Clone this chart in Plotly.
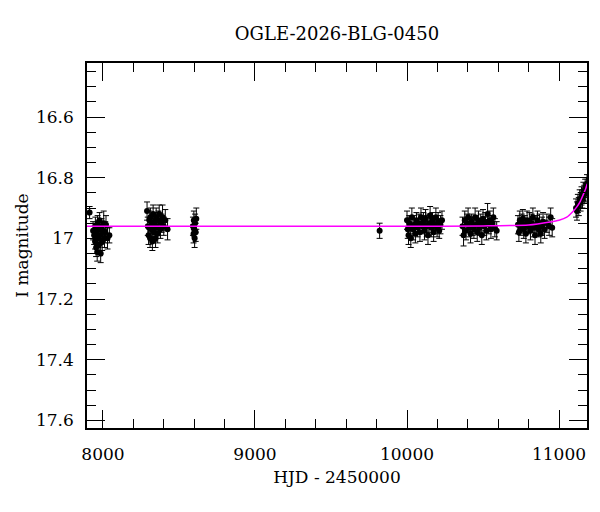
import plotly.graph_objects as go

# Season 1
t1 = [7912, 7935, 7942, 7948, 7950, 7955, 7958, 7962, 7965, 7968, 7972, 7975, 7978, 7982,
      7985, 7990, 7995, 8000, 8005, 8010, 8015, 8020, 8030, 8042]
m1 = [16.915, 16.975, 16.99, 17.01, 16.96, 17.03, 16.98, 17.045, 16.95, 17.0, 16.97, 17.02,
      16.94, 16.99, 17.05, 16.96, 17.01, 16.975, 16.95, 17.0, 16.98, 16.955, 17.0, 16.99]
e1 = [0.02, 0.03, 0.03, 0.025, 0.03, 0.03, 0.025, 0.03, 0.025, 0.03, 0.03, 0.03, 0.025, 0.03,
      0.03, 0.025, 0.03, 0.03, 0.04, 0.03, 0.035, 0.03, 0.035, 0.025]

# Season 2
t2 = [8290, 8295, 8300, 8305, 8310, 8312, 8318, 8322, 8325, 8330, 8335, 8338, 8342, 8346,
      8350, 8355, 8360, 8365, 8370, 8378, 8385, 8392, 8400, 8410, 8425]
m2 = [16.91, 16.96, 16.99, 16.94, 17.0, 16.93, 16.97, 16.95, 17.01, 16.92, 16.98, 16.945,
      16.965, 17.0, 16.93, 16.96, 16.985, 16.94, 16.92, 16.97, 16.95, 16.93, 16.96, 16.94, 16.97]
e2 = [0.03, 0.03, 0.03, 0.03, 0.03, 0.03, 0.03, 0.025, 0.03, 0.03, 0.03, 0.03, 0.03, 0.03,
      0.03, 0.025, 0.03, 0.03, 0.03, 0.03, 0.03, 0.04, 0.03, 0.035, 0.035]

# Season 3
t3 = [8592, 8596, 8598, 8600, 8603, 8606, 8610, 8614]
m3 = [16.96, 16.985, 16.94, 16.97, 17.0, 16.95, 16.98, 16.935]
e3 = [0.03, 0.03, 0.03, 0.025, 0.03, 0.03, 0.03, 0.035]

# Isolated point
t4 = [9820]
m4 = [16.975]
e4 = [0.025]

# Season 4
t5 = [10000, 10005, 10010, 10015, 10020, 10025, 10032, 10040, 10048, 10055, 10062, 10070,
      10078, 10085, 10092, 10100, 10108, 10115, 10122, 10130, 10138, 10145, 10152, 10160,
      10168, 10175, 10182, 10190, 10198, 10205, 10212, 10220, 10230]
m5 = [16.94, 16.97, 16.99, 16.95, 16.96, 17.0, 16.93, 16.97, 16.955, 16.985, 16.94, 16.965,
      16.95, 16.98, 16.93, 16.96, 16.945, 16.975, 16.935, 16.96, 16.99, 16.95, 16.925, 16.965,
      16.94, 16.98, 16.955, 16.93, 16.965, 16.945, 16.975, 16.955, 16.94]
e5 = [0.03, 0.03, 0.03, 0.025, 0.03, 0.03, 0.03, 0.035, 0.03, 0.03, 0.025, 0.03,
      0.03, 0.03, 0.03, 0.025, 0.03, 0.03, 0.03, 0.035, 0.03, 0.03, 0.03, 0.03,
      0.025, 0.03, 0.03, 0.03, 0.03, 0.03, 0.025, 0.03, 0.03]

# Season 5
t6 = [10365, 10372, 10380, 10388, 10395, 10402, 10410, 10418, 10425, 10432, 10440, 10448,
      10455, 10462, 10470, 10478, 10485, 10492, 10500, 10508, 10515, 10522, 10530, 10538,
      10545, 10552, 10560, 10568, 10578, 10590]
m6 = [16.96, 16.99, 16.94, 16.975, 16.95, 16.93, 16.965, 16.985, 16.945, 16.96, 16.97, 16.93,
      16.955, 16.98, 16.94, 16.965, 16.95, 16.99, 16.935, 16.96, 16.945, 16.975, 16.92, 16.955,
      16.94, 16.97, 16.95, 16.93, 16.965, 16.975]
e6 = [0.03, 0.035, 0.03, 0.03, 0.03, 0.03, 0.03, 0.03, 0.025, 0.03, 0.03, 0.03,
      0.03, 0.03, 0.03, 0.025, 0.03, 0.03, 0.03, 0.03, 0.03, 0.03, 0.035, 0.03,
      0.03, 0.03, 0.025, 0.03, 0.03, 0.03]

# Season 6
t7 = [10730, 10736, 10742, 10748, 10755, 10762, 10768, 10775, 10782, 10790, 10798, 10805,
      10812, 10820, 10828, 10835, 10842, 10850, 10858, 10865, 10872, 10880, 10888, 10895,
      10905, 10920, 10935, 10945, 10955]
m7 = [16.955, 16.98, 16.94, 16.965, 16.95, 16.935, 16.97, 16.955, 16.985, 16.94, 16.96, 16.945,
      16.975, 16.95, 16.93, 16.965, 16.99, 16.955, 16.94, 16.97, 16.95, 16.985, 16.96, 16.945,
      16.97, 16.95, 16.96, 16.93, 16.965]
e7 = [0.03, 0.03, 0.03, 0.025, 0.03, 0.03, 0.03, 0.03, 0.03, 0.03, 0.025, 0.03,
      0.03, 0.03, 0.03, 0.03, 0.03, 0.03, 0.03, 0.025, 0.03, 0.03, 0.03, 0.03,
      0.03, 0.03, 0.03, 0.03, 0.03]

# Season 7 (rising)
t8 = [11112, 11118, 11124, 11130, 11136, 11142, 11148, 11154, 11160, 11166, 11172, 11176,
      11180, 11184]
m8 = [16.9, 16.91, 16.885, 16.895, 16.87, 16.88, 16.86, 16.87, 16.845, 16.855, 16.835, 16.85,
      16.83, 16.82]
e8 = [0.03, 0.03, 0.03, 0.03, 0.03, 0.03, 0.03, 0.03, 0.03, 0.03, 0.03, 0.03, 0.03, 0.03]

# Model curve
model_t = [7895, 9000, 10000, 10500, 10800, 10941, 11000, 11051, 11090, 11116, 11140,
           11160, 11175, 11186]
model_m = [16.96, 16.96, 16.96, 16.959, 16.956, 16.946, 16.94, 16.93, 16.912, 16.897, 16.878,
           16.855, 16.837, 16.82]

hjd = t1 + t2 + t3 + t4 + t5 + t6 + t7 + t8
mag = m1 + m2 + m3 + m4 + m5 + m6 + m7 + m8
err = e1 + e2 + e3 + e4 + e5 + e6 + e7 + e8

FONT = "DejaVu Serif"

fig = go.Figure()
fig.add_trace(go.Scatter(
    x=hjd, y=mag, mode="markers",
    marker=dict(color="black", size=6),
    error_y=dict(type="data", array=err, visible=True, color="black", thickness=1, width=3),
    showlegend=False,
))
fig.add_trace(go.Scatter(
    x=model_t, y=model_m, mode="lines",
    line=dict(color="#ff00ff", width=1.5, shape="spline", smoothing=0.6),
    showlegend=False,
))

axis_common = dict(
    showline=True, linecolor="black", linewidth=1.5, mirror="ticks",
    ticks="inside", tickcolor="black", tickwidth=1, ticklen=18,
    showgrid=False, zeroline=False, automargin=False,
    tickfont=dict(family=FONT, size=17, color="black"),
    title_font=dict(family=FONT, size=17, color="black"),
)

fig.update_xaxes(
    range=[7895, 11184], tick0=8000, dtick=1000, tickformat="d",
    minor=dict(dtick=200, ticklen=9, ticks="inside", tickcolor="black", tickwidth=1, showgrid=False),
    title_text="HJD - 2450000", title_standoff=8, ticklabelstandoff=10,
    **axis_common,
)
fig.update_yaxes(
    range=[17.625, 16.422], tick0=16.6, dtick=0.2,
    minor=dict(dtick=0.05, ticklen=9, ticks="inside", tickcolor="black", tickwidth=1, showgrid=False),
    title_text="I magnitude", title_standoff=3, ticklabelstandoff=8,
    **axis_common,
)

fig.update_layout(
    width=600, height=512,
    margin=dict(l=87, r=13, t=63, b=84),
    paper_bgcolor="white", plot_bgcolor="white",
    title=dict(text="OGLE-2026-BLG-0450", x=337 / 600, xanchor="center",
               y=1 - 34 / 512, yanchor="middle",
               font=dict(family=FONT, size=18, color="black")),
)

fig.write_html("out.html", post_script="document.body.style.margin='0';",
               config={"displayModeBar": False})
